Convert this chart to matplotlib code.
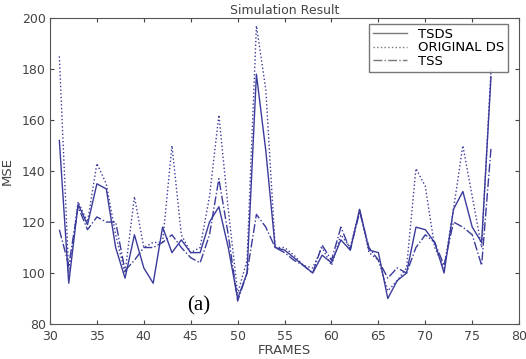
import numpy as np
import matplotlib
matplotlib.use("Agg")
import matplotlib.pyplot as plt

frames = list(range(31, 78))
tsds = [152, 96, 127, 119, 135, 133, 110, 98, 115, 102, 96, 118, 108, 113, 108, 108,
        120, 126, 110, 90, 100, 178, 148, 110, 109, 106, 103, 100, 107, 104, 113, 109,
        125, 109, 108, 90, 97, 100, 118, 117, 112, 100, 125, 132, 118, 112, 177]
orig_ds = [185, 100, 128, 120, 143, 135, 115, 100, 130, 110, 112, 112, 150, 115, 108, 110,
           130, 162, 125, 92, 105, 197, 172, 110, 110, 107, 103, 102, 110, 103, 115, 110,
           125, 108, 105, 93, 97, 102, 141, 134, 110, 102, 125, 150, 130, 110, 180]
tss = [117, 103, 126, 117, 122, 120, 120, 101, 105, 110, 110, 112, 115, 110, 106, 104,
       115, 137, 115, 89, 100, 123, 118, 110, 108, 105, 103, 100, 111, 105, 118, 109,
       124, 110, 105, 98, 102, 100, 110, 115, 112, 103, 120, 118, 115, 103, 149]

col = '#3b3b9c'
plt.rcParams['font.family'] = ['DejaVu Sans']
fig = plt.figure(figsize=(5.26, 3.59), dpi=100)
ax = fig.add_axes([0.095, 0.0975, 0.892, 0.852])

ax.plot(frames, tsds, '-', color=col, lw=1.0, label='TSDS')
ax.plot(frames, orig_ds, ':', color=col, lw=1.0, label='ORIGINAL DS')
ax.plot(frames, tss, '-.', color=col, lw=1.0, label='TSS')

ax.set_xlim(30, 80)
ax.set_ylim(80, 200)
ax.set_xticks(range(30, 81, 5))
ax.set_yticks(range(80, 201, 20))
ax.tick_params(direction='in', top=True, right=True, labelsize=9, colors='#444444',
               length=3)
ax.tick_params(axis='x', pad=4)
ax.tick_params(axis='y', pad=3)
for s in ax.spines.values():
    s.set_color('#555555')
ax.set_xlabel('FRAMES', fontsize=9.5, color='#444444', labelpad=1)
ax.set_ylabel('MSE', fontsize=9.5, color='#444444', labelpad=6)
ax.set_title('Simulation Result', fontsize=9, color='#444444', pad=3)

leg = ax.legend(loc='upper right', fontsize=9.5, frameon=True, fancybox=False,
                handlelength=2.6, handletextpad=0.8, borderpad=0.3, labelspacing=0.05,
                borderaxespad=0.3, bbox_to_anchor=(0.985, 0.995))
leg.get_frame().set_edgecolor('#555555')
for h in leg.get_lines():
    h.set_color('#777777')

ax.text(45.8, 87, '(a)', fontsize=15, family='Liberation Serif', ha='center', va='center')

fig.savefig('out.png', dpi=100)
